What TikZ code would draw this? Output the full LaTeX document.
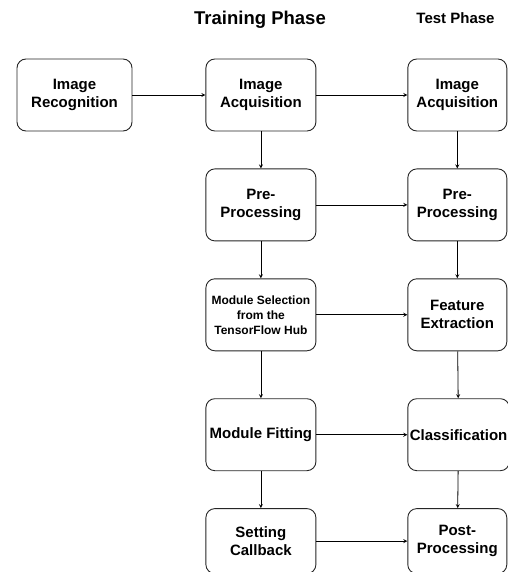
\documentclass[tikz,border=0pt]{standalone}
\usepackage{fontspec}
\setmainfont{Liberation Sans}
\usetikzlibrary{positioning,arrows}

\begin{document}
\begin{tikzpicture}[auto,
    ->,
    >=stealth,
    line width=0.8pt,
    bb/.style={%
      rectangle, rounded corners=9pt, draw=black!85, line width=0.9pt, fill=white,
      minimum width=110pt, minimum height=72pt, inner sep=2pt, align=center,
      font=\fontsize{15}{18}\selectfont\bfseries
    },
    tb/.style={bb, minimum width=99pt},
    hd/.style={%
      inner sep=0pt, anchor=base, font=\bfseries
    }
]
    \useasboundingbox (0pt,0pt) rectangle (507pt,-572pt);

    % headings
    \node[hd, font=\fontsize{18.5}{22}\selectfont\bfseries] (trainhd) at (260pt,-25pt) {Training Phase};
    \node[hd, font=\fontsize{15}{18}\selectfont\bfseries] (testhd) at (455.5pt,-23.5pt) {Test Phase};

    % training column
    \node[bb, minimum width=115pt] (recog) at (74.5pt,-95pt) {Image\\Recognition};
    \node[bb] (acq1)  [right = 73pt of recog] {Image\\Acquisition};
    \node[bb] (pre1)  [below = 37pt of acq1]  {Pre-\\Processing};
    \node[bb, font=\fontsize{12}{15}\selectfont\bfseries] (sel) [below = 37pt of pre1]
          {Module Selection\\from the\\TensorFlow Hub};
    \node[bb] (fit)   [below = 47pt of sel]   {Module Fitting};
    \node[bb, minimum height=65pt] (call) [below = 37pt of fit] {Setting\\Callback};

    % test column
    \node[tb] (acq2)  [right = 91pt of acq1]  {Image\\Acquisition};
    \node[tb] (pre2)  [right = 91pt of pre1]  {Pre-\\Processing};
    \node[tb] (feat)  [right = 91pt of sel]   {Feature\\Extraction};
    \node[tb] (cls)   [right = 91pt of fit]   {Classification};
    \node[tb, minimum height=65pt] (post) [right = 91pt of call] {Post-\\Processing};

    \path (recog) edge (acq1)
          (acq1) edge (acq2)
          (pre1) edge (pre2)
          (sel)  edge (feat)
          (fit)  edge (cls)
          (call) edge (post)
          (acq1) edge (pre1)
          (pre1) edge (sel)
          (sel)  edge (fit)
          (fit)  edge (call)
          (acq2) edge (pre2)
          (pre2) edge (feat)
          (feat) edge (cls)
          (cls)  edge (post)
    ;

\end{tikzpicture}
\end{document}
